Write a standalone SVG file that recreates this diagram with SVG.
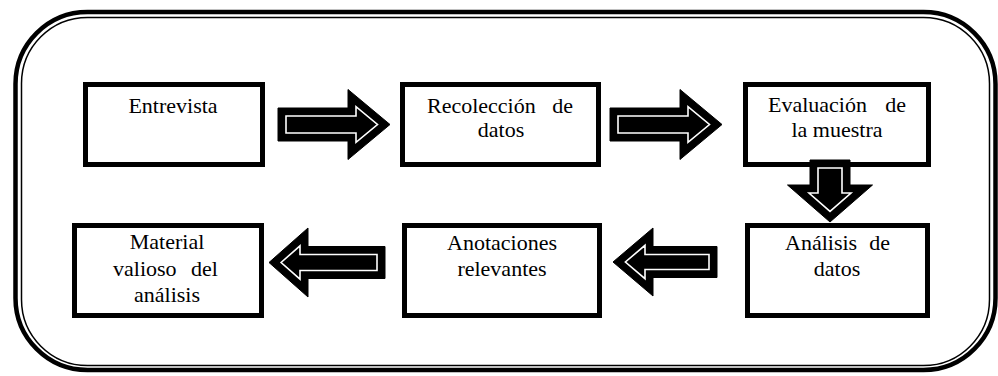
<svg xmlns="http://www.w3.org/2000/svg" width="998" height="376" viewBox="0 0 998 376">
<style>
.box{fill:#fff;stroke:#000;stroke-width:5}
.lbl{font-family:'Liberation Serif','Times New Roman','DejaVu Serif',serif;font-size:22px;fill:#000}
.c{text-anchor:middle}
.e{text-anchor:end}
.ao{fill:#000;stroke:#000;stroke-width:1;stroke-linejoin:miter}
.ai{fill:#000;stroke:#fff;stroke-width:1.6;stroke-linejoin:miter}
</style>
<rect width="998" height="376" fill="#fff"/>
<g id="frame" fill="none" stroke="#000">
<rect x="15.5" y="12" width="980" height="358" rx="72" ry="72" stroke-width="4.5"/>
<rect x="21.5" y="17.5" width="968" height="348" rx="66" ry="66" stroke-width="1.5"/>
</g>
<g id="n1">
<rect class="box" x="85.5" y="84.5" width="177" height="80"/>
<text class="lbl c" x="173" y="113" font-family="Liberation Serif, serif">Entrevista</text>
</g>
<g id="n2">
<rect class="box" x="402.5" y="84.5" width="196" height="80"/>
<text class="lbl" x="427" y="113">Recolección</text>
<text class="lbl e" x="573" y="113">de</text>
<text class="lbl c" x="501" y="137">datos</text>
</g>
<g id="n3">
<rect class="box" x="745.5" y="84.5" width="183" height="80"/>
<text class="lbl" x="768" y="112">Evaluación</text>
<text class="lbl e" x="906" y="112">de</text>
<text class="lbl c" x="837" y="137">la muestra</text>
</g>
<g id="n4">
<rect class="box" x="747.5" y="225.5" width="180" height="90"/>
<text class="lbl" x="785" y="250">Análisis</text>
<text class="lbl e" x="890" y="250">de</text>
<text class="lbl c" x="837" y="276">datos</text>
</g>
<g id="n5">
<rect class="box" x="404.5" y="225.5" width="195" height="90"/>
<text class="lbl c" x="502" y="250">Anotaciones</text>
<text class="lbl c" x="502" y="276">relevantes</text>
</g>
<g id="n6">
<rect class="box" x="74.5" y="225.5" width="187" height="90"/>
<text class="lbl c" x="167" y="249">Material</text>
<text class="lbl" x="113" y="276">valioso</text>
<text class="lbl e" x="218" y="276">del</text>
<text class="lbl c" x="167" y="302">análisis</text>
</g>
<g id="connectors">
<g id="a1">
<polygon class="ao" points="278,108 348,108 348,89.5 390,124.5 348,159.5 348,141 278,141"/>
<polygon class="ai" points="286,116 356,116 356,106.6 377.5,124.5 356,142.4 356,133 286,133"/>
</g>
<g id="a2">
<polygon class="ao" points="610,108 680,108 680,89.5 722,124.5 680,159.5 680,141 610,141"/>
<polygon class="ai" points="618,116 688,116 688,106.6 709.5,124.5 688,142.4 688,133 618,133"/>
</g>
<g id="a3">
<polygon class="ao" points="810,160 850,160 850,185 872.5,185 830,222 787.5,185 810,185"/>
<polygon class="ai" points="818,168 842,168 842,193 851,193 830,211.4 809,193 818,193"/>
</g>
<g id="a4">
<polygon class="ao" points="717,246.5 653,246.5 653,228 613,262 653,296 653,277.5 717,277.5"/>
<polygon class="ai" points="709,254.5 645,254.5 645,245.3 625.4,262 645,278.7 645,269.5 709,269.5"/>
</g>
<g id="a5">
<polygon class="ao" points="385,246.5 308,246.5 308,228 269,262.5 308,297 308,278.5 385,278.5"/>
<polygon class="ai" points="377,254.5 300,254.5 300,245.8 281.1,262.5 300,279.2 300,270.5 377,270.5"/>
</g>
</g>
</svg>
